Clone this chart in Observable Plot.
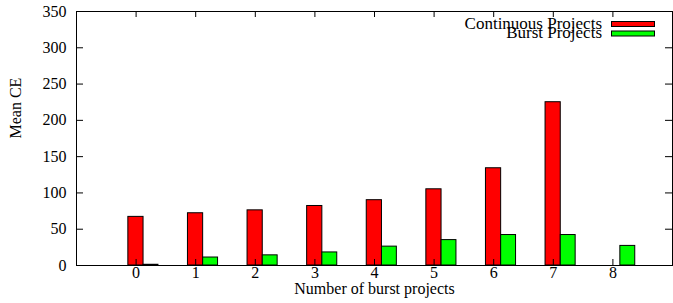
<!DOCTYPE html>
<html><head><meta charset="utf-8">
<script src="https://cdn.jsdelivr.net/npm/d3@7"></script>
<script src="https://cdn.jsdelivr.net/npm/@observablehq/plot@0.6"></script>
<style>
body{margin:0;background:#fff}
#chart{position:relative;width:673px;height:303px}
#chart svg{position:absolute;left:0;top:0}
</style>
</head><body><div id="chart"></div>
<script>
const categories = [0, 1, 2, 3, 4, 5, 6, 7, 8];
const continuous = [67, 72, 76, 82, 90, 105, 134, 225, 0];
const burst = [1, 11, 14, 18, 26, 35, 42, 42, 27];
const yTicks = [0, 50, 100, 150, 200, 250, 300, 350];
const seriesNames = ["Continuous Projects", "Burst Projects"];
const seriesColors = ["#ff0000", "#00ff00"];
const yLabel = "Mean CE";
const xLabel = "Number of burst projects";

const W = 673, H = 303, mL = 76, mR = 1, mT = 11, mB = 38;
const pw = W - mL - mR, ph = H - mT - mB;
const font = "'Liberation Serif', 'Times New Roman', Times, serif";

const rows = categories.flatMap((c, i) => [
  {c, s: seriesNames[0], v: continuous[i], x1: c - 0.13, x2: c + 0.125},
  {c, s: seriesNames[1], v: burst[i], x1: c + 0.125, x2: c + 0.375}
]);

const plot = Plot.plot({
  width: W, height: H,
  marginLeft: mL, marginRight: mR, marginTop: mT, marginBottom: mB,
  style: {fontFamily: font, fontSize: "16px", background: "white", color: "black"},
  x: {domain: [-1, 9]},
  y: {domain: [0, 350]},
  color: {domain: seriesNames, range: seriesColors},
  marks: [
    Plot.rect(rows, {x1: "x1", x2: "x2", y1: 0, y2: "v", fill: "s", stroke: "black", strokeWidth: 1}),
    Plot.tickY(yTicks, {y: d => d, insetRight: pw - 7, stroke: "black"}),
    Plot.tickY(yTicks, {y: d => d, insetLeft: pw - 7, stroke: "black"}),
    Plot.tickX(categories, {x: d => d, insetTop: ph - 6, stroke: "black"}),
    Plot.tickX(categories, {x: d => d, insetBottom: ph - 6, stroke: "black"}),
    Plot.frame({stroke: "black"}),
    Plot.axisY({ticks: yTicks, tickSize: 0, tickPadding: 10, label: null}),
    Plot.axisX({ticks: categories, tickSize: 0, tickPadding: 1, label: null}),
    Plot.text([yLabel], {text: d => d, frameAnchor: "left", rotate: -90, dx: -61}),
    Plot.text([xLabel], {text: d => d, frameAnchor: "bottom", dy: 28})
  ]
});
document.getElementById("chart").appendChild(plot);

// legend (inside the frame, top right, as in the original)
const leg = d3.select("#chart").append("svg")
  .attr("width", W).attr("height", H)
  .style("pointer-events", "none")
  .style("font-family", font).style("font-size", "17px");
const g = leg.selectAll("g").data(seriesNames).join("g")
  .attr("transform", (d, i) => `translate(0,${i * 9.5})`);
g.append("text").attr("x", 602).attr("y", 28.5).attr("text-anchor", "end").text(d => d);
g.append("rect").attr("x", 611.5).attr("y", 21.5).attr("width", 43).attr("height", 5)
  .attr("fill", (d, i) => seriesColors[i]).attr("stroke", "black");
</script>
</body></html>
